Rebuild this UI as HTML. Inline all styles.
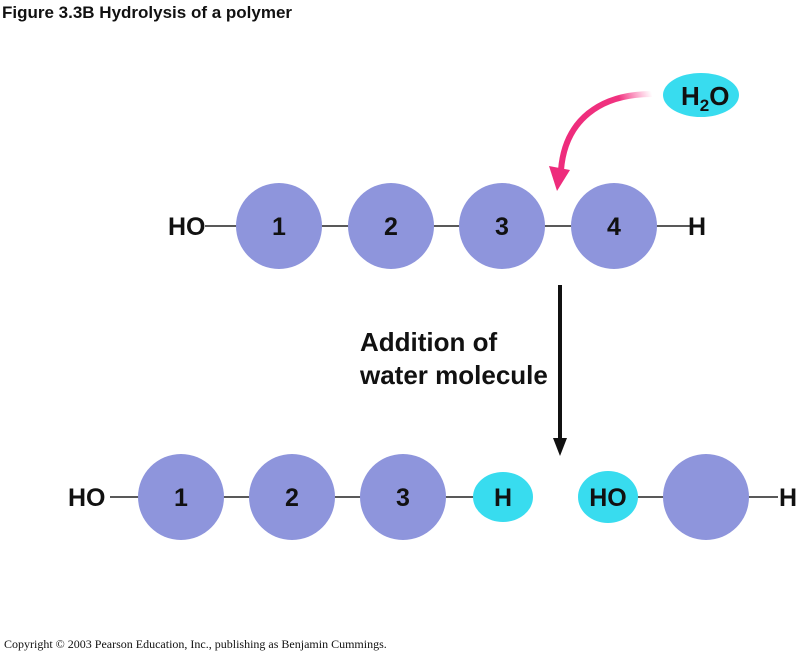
<!DOCTYPE html>
<html><head><meta charset="utf-8"><style>
body{margin:0;background:#fff;}
svg{display:block;}
text{font-family:"Liberation Sans",sans-serif;font-weight:bold;fill:#111;}
</style></head><body>
<svg width="800" height="654" viewBox="0 0 800 654">
<text x="2" y="18" font-size="17">Figure 3.3B  Hydrolysis of a polymer</text>
<line x1="205" y1="226" x2="690" y2="226" stroke="#222" stroke-width="1.5"/>
<g fill="#8e95dc">
<circle cx="279" cy="226" r="43"/><circle cx="391" cy="226" r="43"/>
<circle cx="502" cy="226" r="43"/><circle cx="614" cy="226" r="43"/>
</g>
<g font-size="25" text-anchor="middle">
<text x="279" y="235">1</text><text x="391" y="235">2</text><text x="502" y="235">3</text><text x="614" y="235">4</text>
</g>
<text x="168" y="235" font-size="25">HO</text>
<text x="688" y="235" font-size="25">H</text>
<ellipse cx="701" cy="95" rx="38" ry="22" fill="#38dcef"/>
<text x="681" y="105" font-size="26">H<tspan font-size="17" dy="6">2</tspan><tspan dy="-6">O</tspan></text>
<defs><linearGradient id="pg" x1="1" y1="0" x2="0" y2="0.3"><stop offset="0" stop-color="#ff4f9a" stop-opacity="0"/><stop offset="0.35" stop-color="#f0327f"/><stop offset="1" stop-color="#ee2c7c"/></linearGradient></defs>
<path d="M652 94 C600 94 565 120 561 170" fill="none" stroke="url(#pg)" stroke-width="6"/>
<polygon points="549,166 570,170 557,191" fill="#ee2c7c"/>
<line x1="560" y1="285" x2="560" y2="440" stroke="#111" stroke-width="4"/>
<polygon points="553,438 567,438 560,456" fill="#111"/>
<text x="360" y="351" font-size="26">Addition of</text>
<text x="360" y="384" font-size="26">water molecule</text>
<line x1="110" y1="497" x2="480" y2="497" stroke="#222" stroke-width="1.5"/>
<line x1="630" y1="497" x2="778" y2="497" stroke="#222" stroke-width="1.5"/>
<g fill="#8e95dc">
<circle cx="181" cy="497" r="43"/><circle cx="292" cy="497" r="43"/>
<circle cx="403" cy="497" r="43"/><circle cx="706" cy="497" r="43"/>
</g>
<ellipse cx="503" cy="497" rx="30" ry="25" fill="#38dcef"/>
<ellipse cx="608" cy="497" rx="30" ry="26" fill="#38dcef"/>
<g font-size="25" text-anchor="middle">
<text x="181" y="506">1</text><text x="292" y="506">2</text><text x="403" y="506">3</text>
<text x="503" y="506">H</text><text x="608" y="506">HO</text>
</g>
<text x="68" y="506" font-size="25">HO</text>
<text x="779" y="506" font-size="25">H</text>
<text x="4" y="648" font-size="12" style="font-family:'Liberation Serif',serif;font-weight:normal">Copyright © 2003 Pearson Education, Inc., publishing as Benjamin Cummings.</text>
</svg>
</body></html>
